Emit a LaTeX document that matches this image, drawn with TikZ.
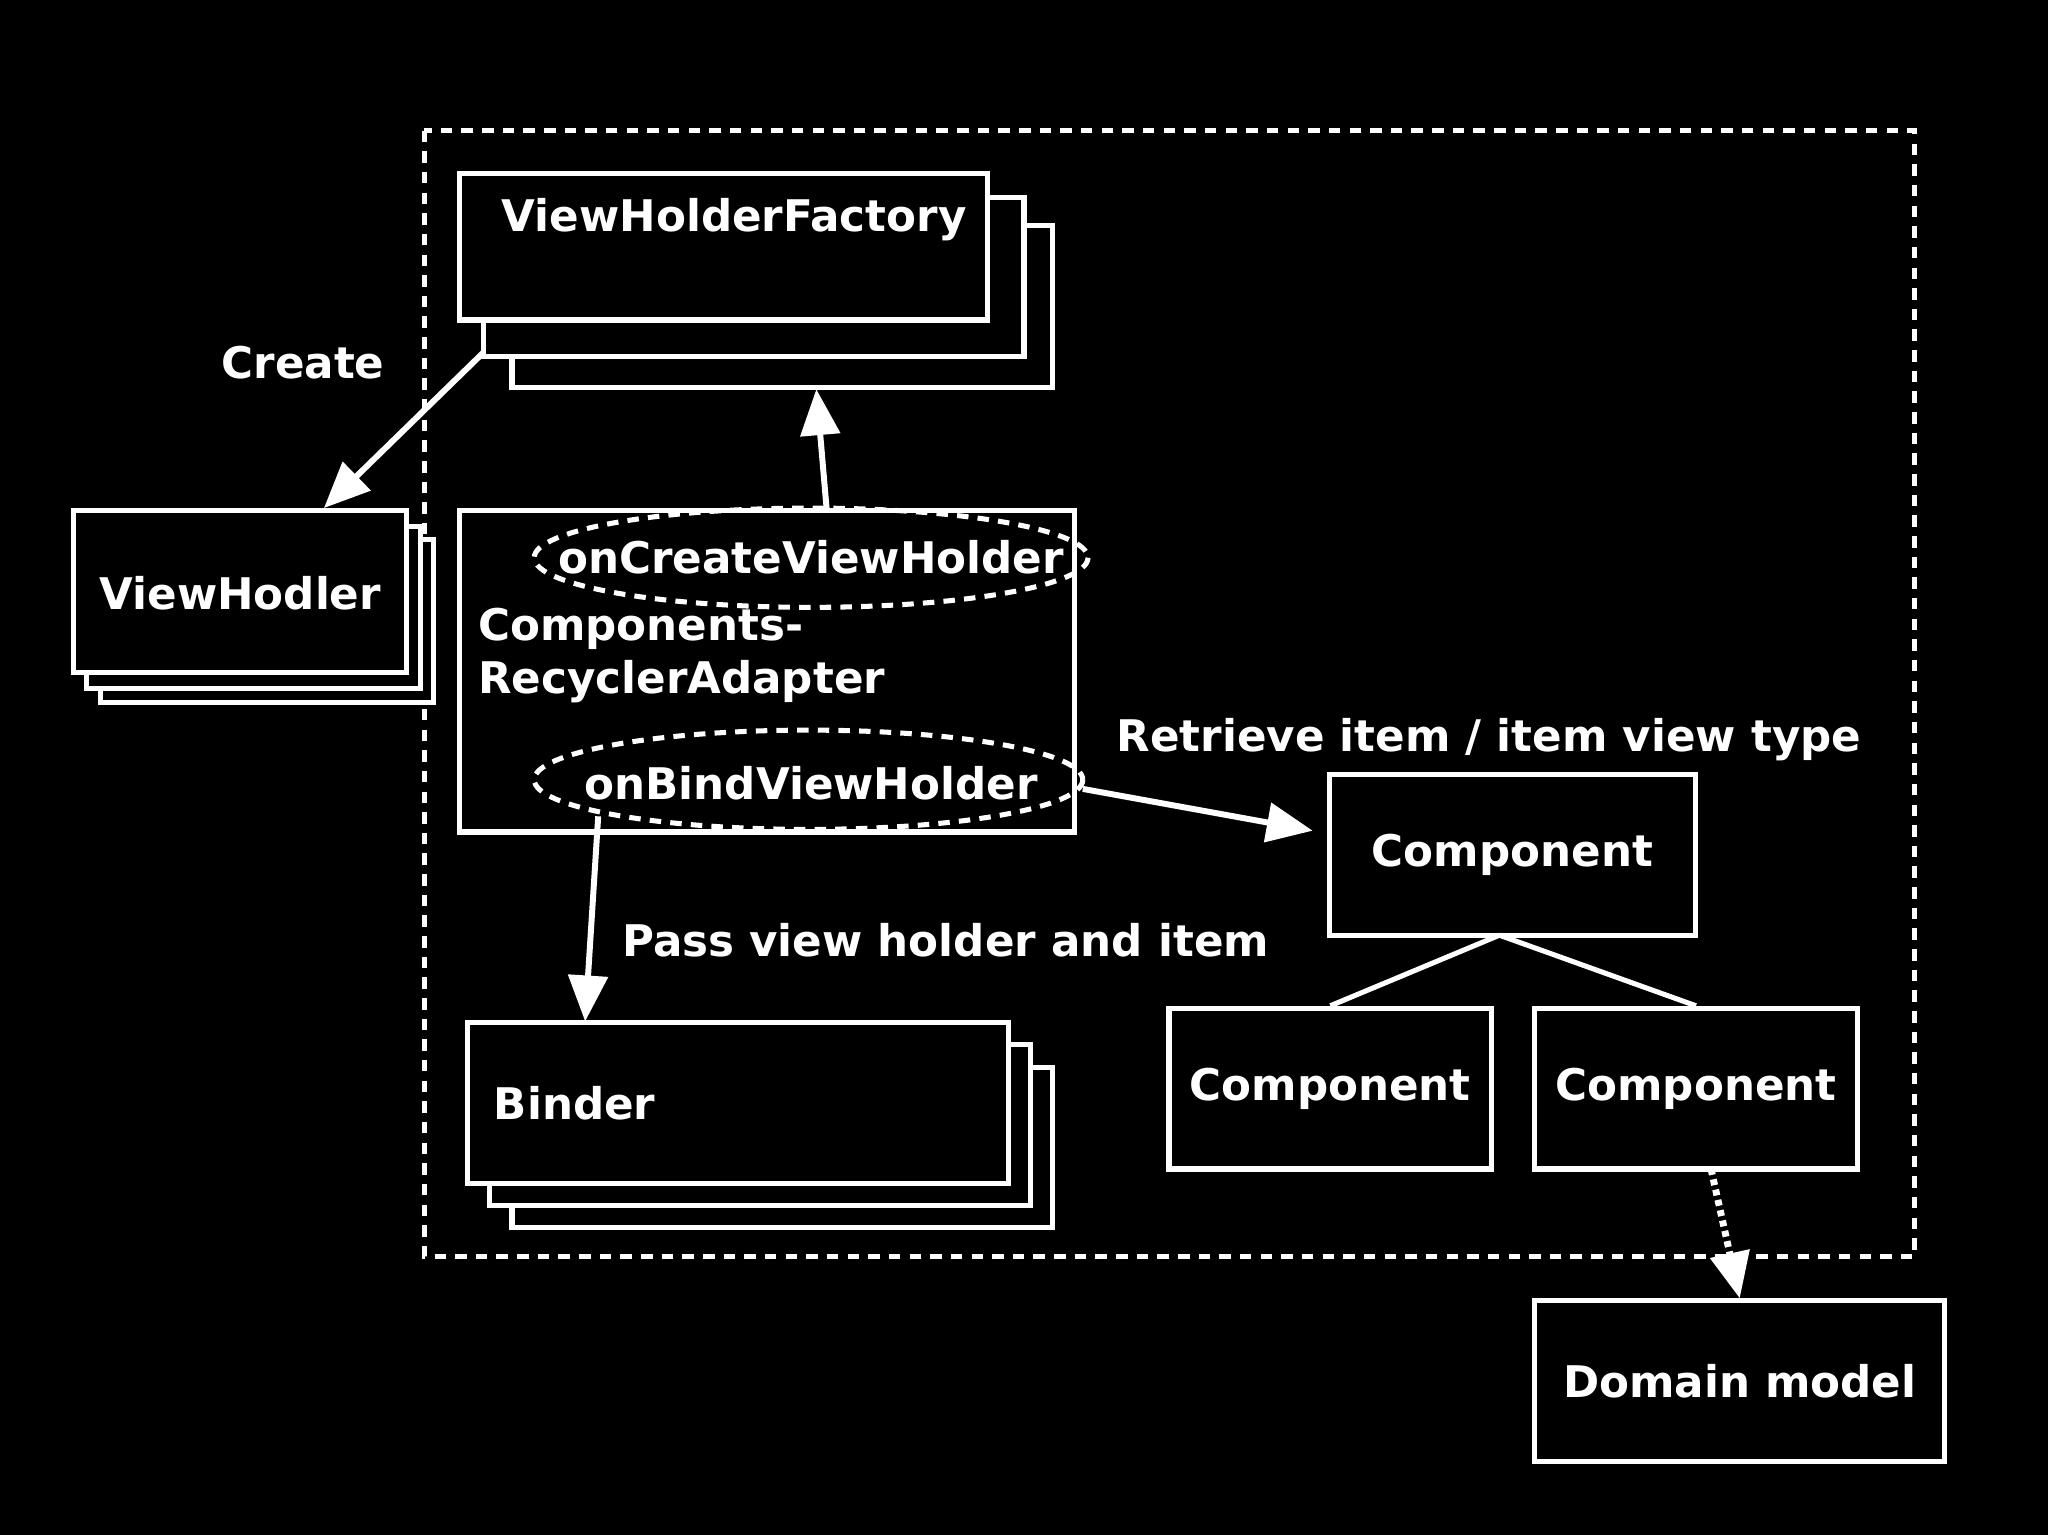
\documentclass[tikz,border=0pt]{standalone}
\usepackage{fontspec}
\setmainfont{DejaVu Sans}
\usetikzlibrary{arrows.meta}
\begin{document}
\begin{tikzpicture}[x=0.02cm,y=-0.02cm,
  box/.style={draw=white,line width=2.2pt,fill=black},
  lbl/.style={text=white,font=\bfseries\fontsize{19}{23}\selectfont},
  arr/.style={draw=white,line width=2.6pt,-{Triangle[length=20pt,width=17pt]}},
  oval/.style={draw=white,dashed,line width=2.2pt,dash pattern=on 5pt off 4pt}]
\fill[black] (0,0) rectangle (1568,1175);
\draw[oval] (325,100) rectangle (1466,962);
% ViewHolderFactory stack
\draw[box] (392,173) rectangle (806,297);
\draw[box] (370,151) rectangle (784,273);
\draw[box] (352,133) rectangle (756,245);
\node[lbl,anchor=west] (vhf) at (378,168) {ViewHolderFactory};
\coordinate (vhfbl) at (370,270);
\coordinate (vhfb) at (625,298);
% ViewHodler stack
\draw[box] (77,413) rectangle (332,538);
\draw[box] (66,403) rectangle (322,527);
\draw[box] (56,391) rectangle (311,515);
\node[lbl,anchor=west] (vh) at (70,454) {ViewHodler};
\coordinate (vht) at (248,389);
% Adapter
\draw[box] (352,391) rectangle (823,637);
\draw[oval] (621,427) ellipse (212 and 38);
\draw[oval] (619,597) ellipse (210 and 38);
\node[lbl] (oncreate) at (621,427) {onCreateViewHolder};
\node[lbl] (onbind) at (621,600) {onBindViewHolder};
\node[lbl,anchor=west,align=left] (adapter) at (360,502) {Components-\\RecyclerAdapter};
\coordinate (adt) at (633,391);
\coordinate (obr) at (829,604);
\coordinate (obb) at (458,625);
% Binder stack
\draw[box] (392,817) rectangle (806,940);
\draw[box] (375,800) rectangle (789,923);
\draw[box] (358,783) rectangle (772,906);
\node[lbl,anchor=west] (binder) at (372,845) {Binder};
\coordinate (bt) at (448,782);
% Components
\node[box,lbl,minimum width=280*0.02cm,minimum height=123*0.02cm] (comp) at (1158,654.5) {Component};
\node[box,lbl,minimum width=247*0.02cm,minimum height=123*0.02cm] (compl) at (1018.5,833.5) {Component};
\node[box,lbl,minimum width=247*0.02cm,minimum height=123*0.02cm] (compr) at (1298.5,833.5) {Component};
\node[box,lbl,minimum width=314*0.02cm,minimum height=123*0.02cm] (dom) at (1332,1057.5) {Domain model};
\coordinate (compb) at (1148,716);
\coordinate (compw) at (1005,636);
% connectors
\draw[arr] (vhfbl) -- (vht);
\draw[arr] (adt) -- (vhfb);
\draw[arr] (obr) -- (compw);
\draw[arr] (obb) -- (bt);
\draw[white,line width=2.2pt] (compb) -- (compl.north);
\draw[white,line width=2.2pt] (compb) -- (compr.north);
\draw[arr,dotted,line width=3pt] (1310,895) -- (dom.north);
% labels
\node[lbl] (create) at (232,278) {Create};
\node[lbl] (retr) at (1140,566) {Retrieve item / item view type};
\node[lbl] (pass) at (724,720) {Pass view holder and item};
\end{tikzpicture}
\end{document}
